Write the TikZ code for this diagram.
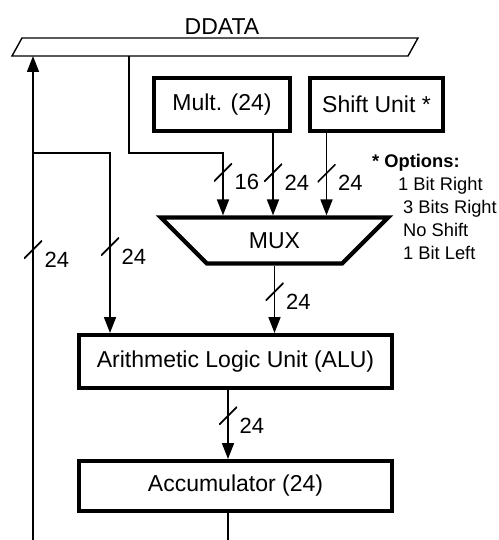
\documentclass[tikz,border=0pt]{standalone}
\usepackage{fontspec}
\setmainfont{Liberation Sans}
\usetikzlibrary{arrows.meta,shapes.geometric}

\tikzset{
  blk/.style={rectangle, draw, line width=4pt, inner sep=0pt, font=\fontsize{23}{27}\selectfont},
  mux/.style={trapezium, trapezium angle=45, shape border rotate=180, draw, line width=4.2pt,
    minimum height=46pt, inner xsep=1pt, inner ysep=1pt, font=\fontsize{23}{27}\selectfont},
  bus/.style={rectangle, minimum width=396pt, minimum height=18pt, inner sep=0pt, outer sep=0pt},
  busline/.style={line width=1.4pt, line join=miter},
  wire/.style={line width=1.7pt},
  arr/.style={wire, -{Triangle[length=16pt, width=12pt]}},
  sl/.style={minimum width=18pt, minimum height=18pt, inner sep=0pt,
    path picture={\draw[wire, -] (path picture bounding box.south west) -- (path picture bounding box.north east);}},
  wl/.style={font=\fontsize{22}{26}\selectfont, anchor=west, inner sep=1pt},
  opt/.style={font=\fontsize{18.3}{23}\selectfont, align=left, inner sep=0pt},
}

\begin{document}
\begin{tikzpicture}[x=1pt, y=-1pt]
  \useasboundingbox (0,0) rectangle (498,540);
  \path
  (215,47) node[bus, label={[xshift=7pt, inner sep=3pt, font=\fontsize{23}{27}\selectfont]above:DDATA}](ddata){}
  (222,104.5) node[blk, minimum width=136pt, minimum height=52.5pt](mult){Mult. (24)}
  (376.5,104.5) node[blk, minimum width=133pt, minimum height=52.5pt](shift){Shift Unit *}
  (274.5,240.5) node[mux](mux){MUX}
  (235.5,361.5) node[blk, minimum width=313pt, minimum height=53pt](alu){Arithmetic Logic Unit (ALU)}
  (235.5,486) node[blk, minimum width=313pt, minimum height=50pt](acc){Accumulator (24)}
  (372,154) node[opt, anchor=north west](opts){\textbf{* Options:}\\
    \hspace*{26pt}1 Bit Right\\ \hspace*{31pt}3 Bits Right\\ \hspace*{31pt}No Shift\\ \hspace*{31pt}1 Bit Left}
  ;
  % the bus
  \draw[busline] ([xshift=5pt]ddata.north west) -- ([xshift=5pt]ddata.north east)
    -- ([xshift=-5pt]ddata.south east) -- ([xshift=-5pt]ddata.south west) -- cycle;
  \coordinate (tap) at (129,153);
  \coordinate (tc) at (223,153);
  \coordinate (jn) at (33,153);
  \coordinate (jc) at (110,153);
  \coordinate (fb) at (33,540);
  \coordinate (ao) at (228,540);

  % inputs to the MUX
  \draw[arr] (tap |- ddata.south) -- (tap) -- (tc) -- (tc |- mux.north)
    node[sl, pos=.31, label={[wl]south east:16}]{};
  \draw[arr] ([xshift=51pt]mult.south) -- ([xshift=51pt]mult.south |- mux.north)
    node[sl, pos=.485, label={[wl]south east:24}]{};
  \draw[arr] ([xshift=-50pt]shift.south) -- ([xshift=-50pt]shift.south |- mux.north)
    node[sl, pos=.49, label={[wl]south east:24}]{};
  % MUX and ALU
  \draw[arr] (mux.south) -- (mux.south |- alu.north)
    node[sl, pos=.39, label={[wl]south east:24}]{};
  \draw[arr] (alu.south -| ao) -- (ao |- acc.north)
    node[sl, pos=.375, label={[wl]south east:24}]{};
  \draw[wire] (acc.south -| ao) -- (ao);
  % feedback to the bus
  \draw[arr] (fb) -- (fb |- ddata.south)
    node[sl, pos=.60, label={[wl]south east:24}]{};
  \draw[arr] (jn) -- (jc) -- (jc |- alu.north)
    node[sl, pos=.52, label={[wl]south east:24}]{};
\end{tikzpicture}
\end{document}
